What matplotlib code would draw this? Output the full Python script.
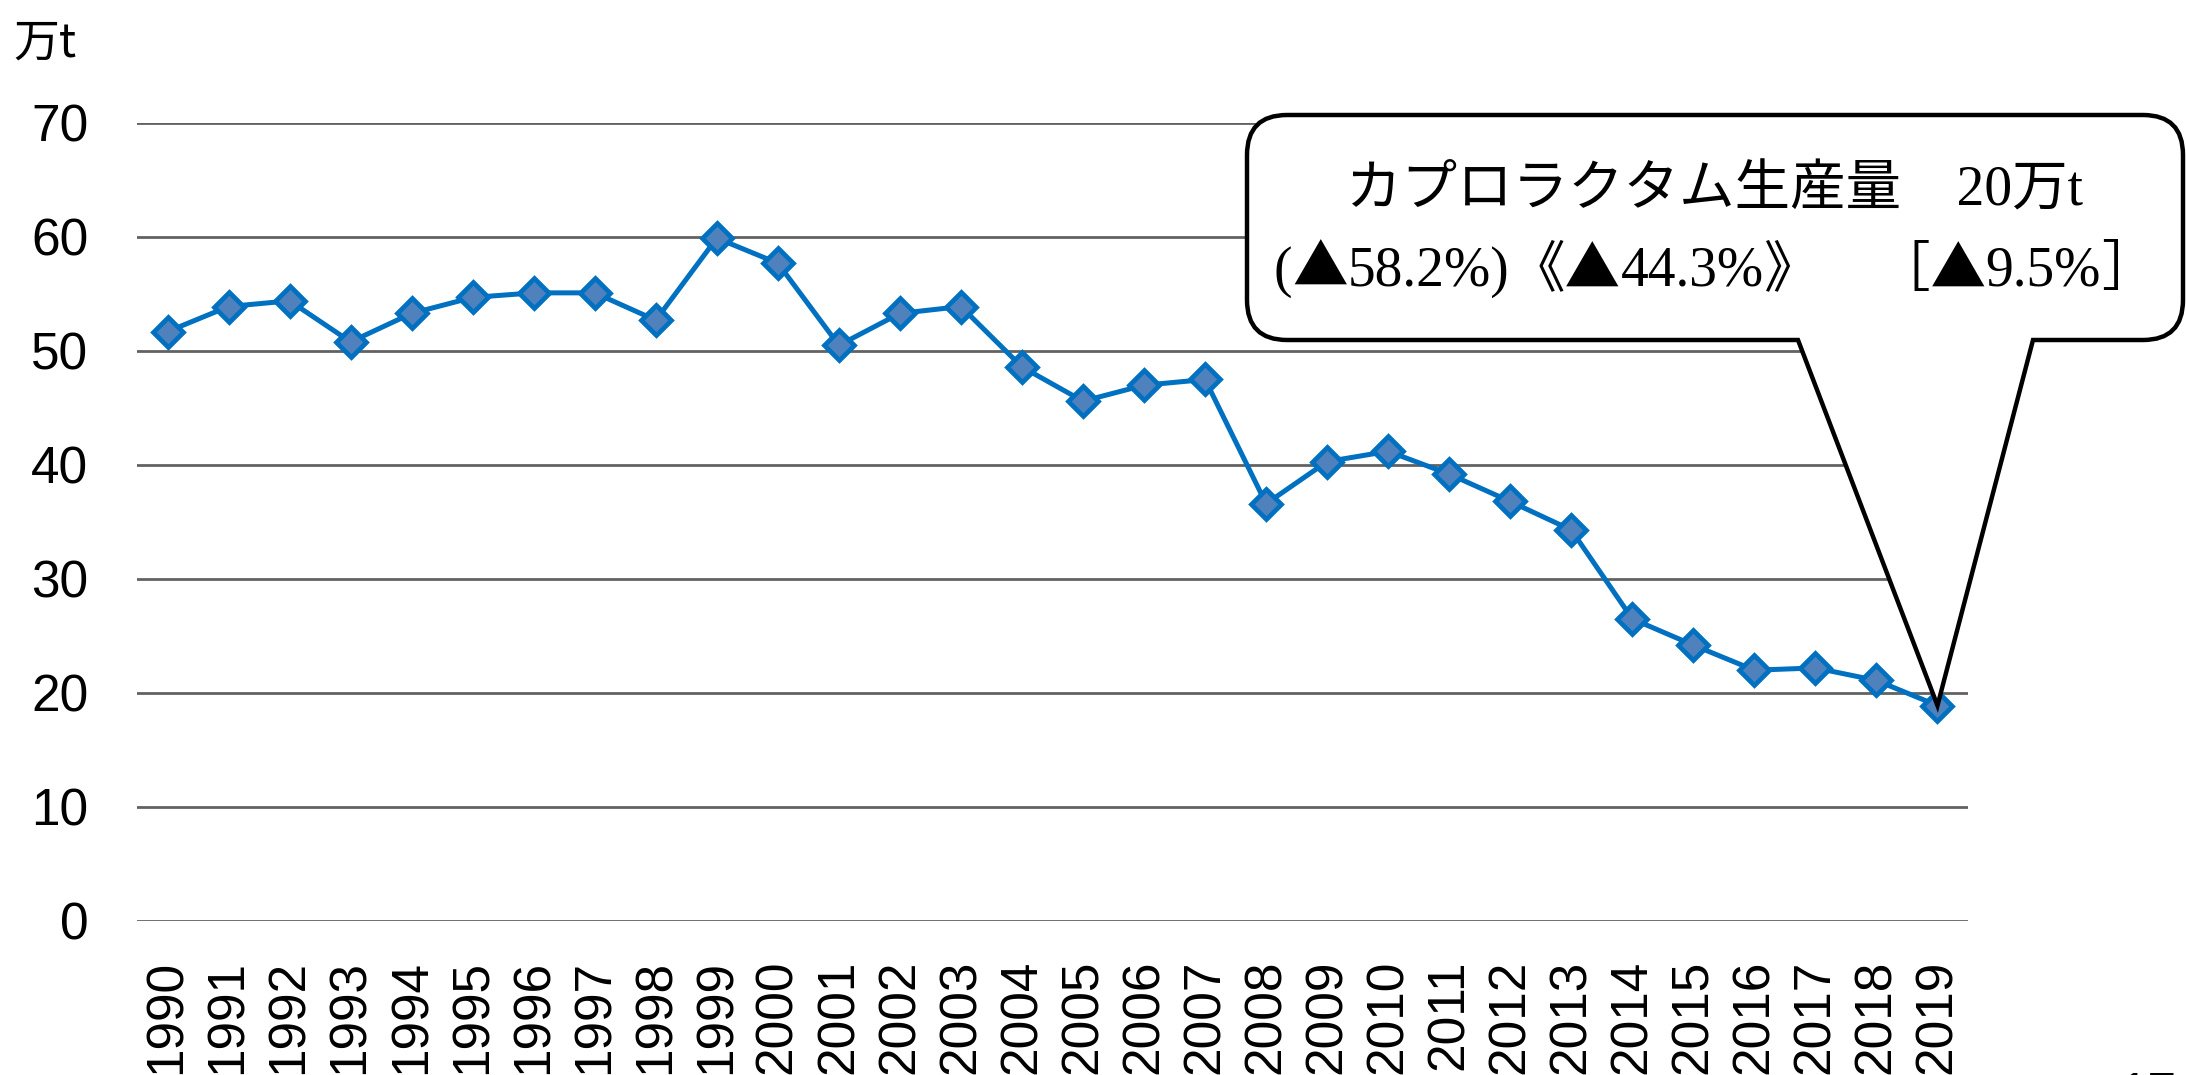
import numpy as np
import matplotlib
matplotlib.use("Agg")
import matplotlib.pyplot as plt
from matplotlib.path import Path
from matplotlib.patches import PathPatch
from matplotlib.offsetbox import TextArea, HPacker, AnnotationBbox

# データ(万t)
years = list(range(1990, 2020))
prod = [51.7, 53.9, 54.4, 50.8, 53.3, 54.7, 55.1, 55.1, 52.7, 59.9,
        57.7, 50.5, 53.3, 53.9, 48.6, 45.6, 47.0, 47.5, 36.6, 40.3,
        41.2, 39.2, 36.8, 34.3, 26.5, 24.2, 22.0, 22.2, 21.1, 18.9]
yticks = [0, 10, 20, 30, 40, 50, 60, 70]
unit_label = "万t"
callout_l1 = "カプロラクタム生産量　20万t"
# 2行目: (文字列, CJKフォントか)
callout_l2 = [("(", False), ("▲", True), ("58.2%)", False), ("《▲", True),
              ("44.3%", False), ("》　［▲", True), ("9.5%", False), ("］", True)]

W, H, DPI = 2186, 1075, 100
fig = plt.figure(figsize=(W / DPI, H / DPI), dpi=DPI)
ax = fig.add_axes([137 / W, 154 / H, (1968 - 137) / W, (952 - 154) / H])

SANS = ["Liberation Sans", "Noto Sans CJK JP"]
SERIF = ["Liberation Serif", "Noto Sans CJK JP"]
CJK = ["Noto Sans CJK JP"]

x = np.arange(len(years))
for t in yticks:
    ax.axhline(t, color="#626262", lw=2.0, zorder=1)
ax.plot(x, prod, color="#0070C0", lw=3.6, marker="D", ms=15,
        mfc="#4F81BD", mec="#0070C0", mew=3.4, zorder=3)

ax.set_xlim(-0.5, len(years) - 0.5)
ax.set_ylim(0, 70)
ax.set_yticks(yticks)
ax.set_yticklabels([str(t) for t in yticks], family=SANS, fontsize=37)
ax.set_xticks(x)
ax.set_xticklabels([str(y) for y in years], rotation=90, family=SANS, fontsize=37)
ax.tick_params(axis="y", length=0, pad=35)
ax.tick_params(axis="x", length=0, pad=28)
for s in ax.spines.values():
    s.set_visible(False)

fig.text(13 / W, 1 - 57 / H, unit_label, family=CJK, fontsize=33,
         va="baseline", ha="left")

# 吹き出し(ピクセル座標で作って inch に変換)
tip = ax.transData.transform((x[-1], prod[-1]))
L, R, T, B, r = 1247, 2183, H - 115, H - 340, 40
bl, br = 1798, 2033
M, C3, CL, LN = Path.MOVETO, Path.CURVE3, Path.CLOSEPOLY, Path.LINETO
verts = [(L + r, T), (R - r, T), (R, T), (R, T - r), (R, B + r), (R, B), (R - r, B),
         (br, B), (tip[0], tip[1]), (bl, B), (L + r, B), (L, B), (L, B + r),
         (L, T - r), (L, T), (L + r, T), (L + r, T)]
codes = [M, LN, C3, C3, LN, C3, C3, LN, LN, LN, LN, C3, C3, LN, C3, C3, CL]
verts = [(vx / DPI, vy / DPI) for vx, vy in verts]
patch = PathPatch(Path(verts, codes), transform=fig.dpi_scale_trans,
                  fc="white", ec="black", lw=3.2, joinstyle="miter", zorder=10)
fig.add_artist(patch)

cx = (L + R) / 2 / W
fig.text(cx, 1 - 191 / H, callout_l1, family=SERIF, fontsize=40,
         ha="center", va="center", zorder=11)

parts = [TextArea(s, textprops=dict(family=CJK if cjk else SERIF, fontsize=40))
         for s, cjk in callout_l2]
row = HPacker(children=parts, align="baseline", pad=0, sep=0)
ab = AnnotationBbox(row, (cx, 1 - 270 / H), xycoords="figure fraction",
                    frameon=False, box_alignment=(0.5, 0.5), zorder=11)
fig.add_artist(ab)

# ページ番号(下端で切れている)
fig.text(2176 / W, -0.032, "17", family=SANS, fontsize=37, ha="right", va="baseline")

fig.savefig("out.png", dpi=DPI)
